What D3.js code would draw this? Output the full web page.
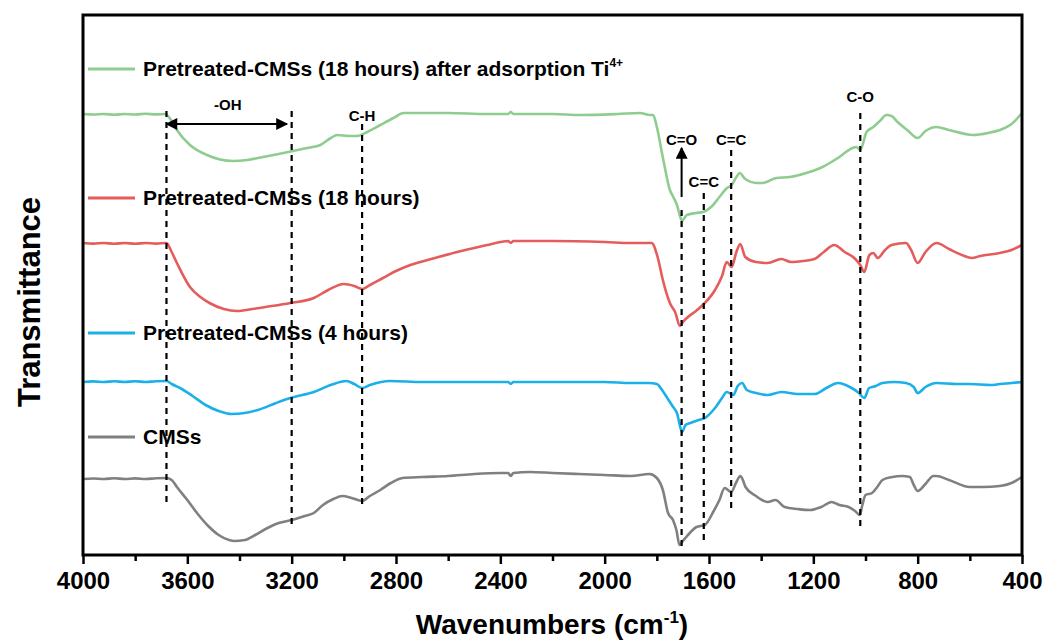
<!DOCTYPE html>
<html><head><meta charset="utf-8">
<script src="https://cdn.jsdelivr.net/npm/d3@7"></script>
<style>
body{margin:0;background:#fff;}
svg{font-family:"Liberation Sans",Arial,sans-serif;font-weight:bold;}
</style></head>
<body>
<svg id="chart" width="1046" height="640"></svg>
<script>
// Wavenumber ticks (cm-1)
const majorTicks = [4000,3600,3200,2800,2400,2000,1600,1200,800,400];
const minorTicks = [3800,3400,3000,2600,2200,1800,1400,1000,600];

// Series: [wavenumber, transmittance (a.u., offset stacked)]
const cmss = [[4000,121],[3960,121.5],[3920,121],[3880,121.8],[3840,121],[3800,121.6],[3760,121],[3720,121.8],[3680,122],[3660,120],[3640,113],[3600,100],[3560,86],[3520,74],[3480,65],[3440,60],[3420,59],[3380,60],[3340,65],[3300,71],[3250,77],[3200,80],[3150,84],[3115,87],[3080,95],[3040,101],[3005,104],[2970,102],[2930,99],[2900,104],[2860,110],[2820,117],[2775,122],[2700,123],[2600,124],[2500,126],[2400,127],[2370,127],[2360,124],[2350,127],[2285,128],[2200,127],[2100,126],[2000,125],[1900,124],[1828,126],[1800,122],[1777,110],[1757,87],[1738,80],[1725,70],[1713,55],[1700,59],[1687,63],[1648,73],[1616,75],[1584,88],[1560,100],[1540,112],[1515,108],[1495,118],[1480,124],[1470,120],[1460,113],[1420,104],[1375,98],[1345,100],[1310,93],[1260,91],[1212,90],[1170,93],[1130,98],[1100,95],[1065,93],[1040,89],[1022,85],[1012,95],[1000,105],[975,107],[955,113],[935,120],[897,123],[860,124],[830,123],[815,115],[800,109],[770,116],[740,124],[728,124],[680,120],[600,113],[550,113],[485,114],[440,117],[400,123]];

const cmss4h = [[4000,218],[3960,218.6],[3920,218],[3880,218.8],[3840,218],[3800,218.7],[3760,218],[3720,218.8],[3680,219],[3660,216],[3628,212],[3580,204],[3530,195],[3480,189],[3430,186],[3380,187],[3330,190],[3260,197],[3205,202],[3115,208],[3050,215],[2990,219],[2960,216],[2930,212],[2900,215],[2822,219],[2700,218],[2500,218],[2370,218],[2360,216],[2350,218],[2200,218],[2000,218],[1900,217],[1830,217],[1800,216],[1780,210],[1760,202],[1740,194],[1723,187],[1703,168],[1690,175],[1672,177],[1640,180],[1616,182],[1577,192],[1550,202],[1532,208],[1507,205],[1490,214],[1473,217],[1455,210],[1420,207],[1375,205],[1322,208],[1260,206],[1195,206],[1150,212],[1105,217],[1060,213],[1025,207],[1005,202],[986,212],[960,214],[935,217],[890,218],[845,217],[815,213],[800,207],[770,213],[728,217],[650,216],[600,216],[520,215],[485,216],[440,217],[400,218]];

const cmss18h = [[4000,357],[3960,356.4],[3920,357],[3880,356.2],[3840,357],[3800,356.3],[3760,357],[3720,356.4],[3680,357],[3660,348],[3640,337],[3590,313],[3550,303],[3515,297],[3460,291],[3410,289],[3350,291],[3300,293],[3205,297],[3115,302],[3060,310],[3000,316],[2960,314],[2930,311],[2900,315],[2850,322],[2800,329],[2745,335],[2650,342],[2550,349],[2450,355],[2400,358],[2370,359],[2360,357],[2350,359],[2200,359],[2000,358],[1900,357],[1820,357],[1797,343],[1777,320],[1750,297],[1730,288],[1711,274],[1700,278],[1685,282],[1650,289],[1616,297],[1577,310],[1550,324],[1532,338],[1513,333],[1495,348],[1480,356],[1461,343],[1420,338],[1375,337],[1323,341],[1285,338],[1240,339],[1196,341],[1160,348],[1120,355],[1080,348],[1043,342],[1020,335],[1005,328],[985,345],[970,347],[953,342],[925,350],[900,355],[845,357],[825,350],[800,337],[770,348],[728,357],[680,351],[630,345],[592,342],[560,344],[485,347],[440,350],[400,355]];

const cmss18hTi = [[4000,486],[3960,485.5],[3920,486],[3880,485.3],[3840,486],[3800,485.5],[3760,486.2],[3720,485.6],[3685,486],[3660,479],[3640,470],[3590,455],[3525,445],[3425,439],[3370,440],[3310,443],[3250,446],[3195,449],[3140,452],[3090,455],[3050,462],[3025,465],[2980,464],[2950,464],[2910,468],[2860,475],[2810,482],[2770,487],[2600,487],[2450,486],[2370,486],[2360,488],[2350,486],[2200,486],[2095,485],[1950,486],[1865,487],[1826,485],[1814,485],[1800,473],[1775,440],[1750,410],[1737,403],[1723,395],[1710,383],[1704,379],[1685,385],[1650,387],[1623,388],[1588,394],[1560,403],[1531,412],[1513,415],[1495,423],[1482,427],[1465,422],[1455,420],[1420,417],[1394,417],[1342,422],[1290,423],[1227,427],[1165,433],[1100,443],[1050,452],[1035,453],[1020,450],[996,468],[970,473],[945,479],[920,485],[900,484],[877,478],[840,470],[800,462],[770,469],[728,473],[680,470],[588,465],[530,467],[485,470],[440,476],[400,487]];

const seriesNames = ["Pretreated-CMSs (18 hours) after adsorption Ti","Pretreated-CMSs (18 hours)","Pretreated-CMSs (4 hours)","CMSs"];
const seriesColors = ["#8fcc8f","#e45c5c","#1cb0e8","#808080"];
const seriesData = [cmss18hTi, cmss18h, cmss4h, cmss];

// Band markers: [wavenumber, top, bottom] in transmittance units
const bandLines = [[3680,489,95],[3200,489,72],[2930,476,92],[1705,390,52],[1620,407,57],[1515,450,92],[1020,487,70]];
const bandLabels = [["-OH",3445,490],["C-H",2930,479],["C=O",1705,455],["C=C",1515,455],["C=C",1620,413],["C-O",1020,498]];

const W=1046,H=640;
const m={left:83,right:24,top:15,bottom:85};
const svg=d3.select("#chart");
const x=d3.scaleLinear().domain([4000,400]).range([m.left,W-m.right]);
const y=d3.scaleLinear().domain([45,585]).range([H-m.bottom,m.top]);

const line=d3.line().x(d=>x(d[0])).y(d=>y(d[1])).curve(d3.curveMonotoneX);

// curves
seriesData.forEach((s,i)=>{
  svg.append("path").datum(s.slice().reverse()).attr("d",line).attr("fill","none")
    .attr("stroke",seriesColors[i]).attr("stroke-width",2.6).attr("stroke-linejoin","round");
});

// dashed band lines
svg.selectAll(".band").data(bandLines).enter().append("line")
  .attr("x1",d=>x(d[0])).attr("x2",d=>x(d[0]))
  .attr("y1",d=>y(d[1])).attr("y2",d=>y(d[2]))
  .attr("stroke","#000").attr("stroke-width",2.2).attr("stroke-dasharray","6,5");

// arrow markers
const defs=svg.append("defs");
defs.append("marker").attr("id","ah").attr("viewBox","0 0 10 10").attr("refX",9).attr("refY",5)
  .attr("markerWidth",14).attr("markerHeight",12).attr("orient","auto-start-reverse").attr("markerUnits","userSpaceOnUse")
  .append("path").attr("d","M0,0 L10,5 L0,10 z").attr("fill","#000");

// -OH double arrow
svg.append("line").attr("x1",x(3680)).attr("x2",x(3218)).attr("y1",y(476)).attr("y2",y(476))
  .attr("stroke","#000").attr("stroke-width",2).attr("marker-start","url(#ah)").attr("marker-end","url(#ah)");
// C=O arrow
svg.append("line").attr("x1",x(1705)).attr("x2",x(1705)).attr("y1",y(403)).attr("y2",y(452))
  .attr("stroke","#000").attr("stroke-width",2).attr("marker-end","url(#ah)");

svg.selectAll(".blab").data(bandLabels).enter().append("text")
  .attr("x",d=>x(d[1])).attr("y",d=>y(d[2])).attr("text-anchor","middle")
  .attr("font-size",15).text(d=>d[0]);

// frame
svg.append("rect").attr("x",m.left).attr("y",m.top).attr("width",W-m.left-m.right).attr("height",H-m.top-m.bottom)
  .attr("fill","none").attr("stroke","#000").attr("stroke-width",3);

// axes
const gx=svg.append("g").attr("transform",`translate(0,${H-m.bottom})`)
  .call(d3.axisBottom(x).tickValues(majorTicks).tickFormat(d3.format("d")).tickSize(9).tickSizeOuter(0).tickPadding(8));
gx.select(".domain").remove();
gx.selectAll("line").attr("stroke-width",2.5);
gx.selectAll("text").attr("font-size",24).attr("font-weight","bold").attr("fill","#000")
  .attr("font-family","'Liberation Sans',Arial,sans-serif");
const gm=svg.append("g").attr("transform",`translate(0,${H-m.bottom})`)
  .call(d3.axisBottom(x).tickValues(minorTicks).tickFormat("").tickSize(6).tickSizeOuter(0));
gm.select(".domain").remove();
gm.selectAll("line").attr("stroke-width",2.5);

// axis titles
const xt=svg.append("text").attr("x",552).attr("y",634).attr("text-anchor","middle").attr("font-size",28);
xt.append("tspan").text("Wavenumbers (cm");
xt.append("tspan").attr("dy",-11).attr("font-size",17).text("-1");
xt.append("tspan").attr("dy",11).text(")");
svg.append("text").attr("transform","translate(40,302) rotate(-90)").attr("text-anchor","middle")
  .attr("font-size",31).text("Transmittance");

// legend
const legY=[69,198,333,437];
seriesNames.forEach((n,i)=>{
  svg.append("line").attr("x1",88).attr("x2",135).attr("y1",legY[i]).attr("y2",legY[i])
    .attr("stroke",seriesColors[i]).attr("stroke-width",3);
  const t=svg.append("text").attr("x",143).attr("y",legY[i]+7).attr("font-size",21).attr("fill","#000");
  t.append("tspan").text(n);
  if(i===0){t.append("tspan").attr("dy",-9).attr("font-size",12).text("4+");}
});
</script>
</body></html>
